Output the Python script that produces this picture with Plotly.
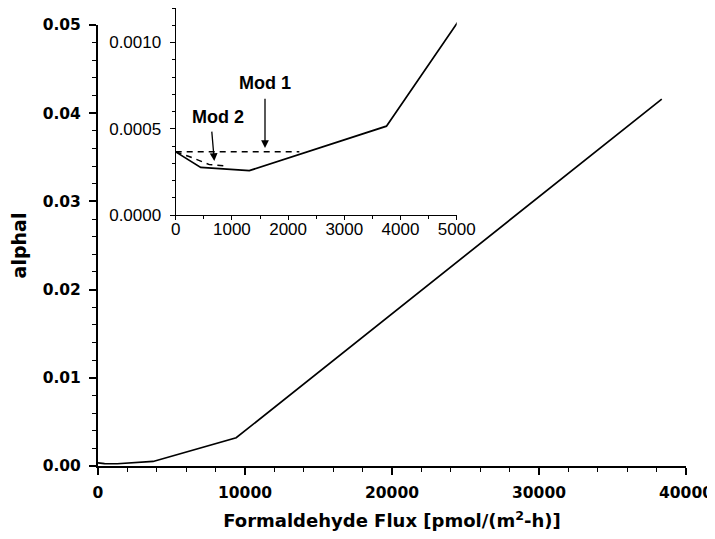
import plotly.graph_objects as go

# Data
flux = [0, 445, 1310, 3750, 9400, 38350]
alpha = [0.000366, 0.000276, 0.000257, 0.000515, 0.0032, 0.0416]

mod1_flux = [0, 2200]
mod1_alpha = [0.000366, 0.000366]

mod2_flux = [0, 250, 600, 900]
mod2_alpha = [0.000366, 0.000338, 0.000292, 0.000284]

main_xticks = [0, 10000, 20000, 30000, 40000]
main_yticks = [0.00, 0.01, 0.02, 0.03, 0.04, 0.05]
inset_xticks = [0, 1000, 2000, 3000, 4000, 5000]
inset_yticks = [0.0, 0.0005, 0.0010]

ARIAL = "Liberation Sans, Arial, sans-serif"
WIDE = "DejaVu Sans, Verdana, sans-serif"

fig = go.Figure()
fig.add_trace(go.Scatter(x=flux, y=alpha, mode="lines",
                         line=dict(color="black", width=1.7),
                         xaxis="x", yaxis="y", showlegend=False))
fig.add_trace(go.Scatter(x=flux, y=alpha, mode="lines",
                         line=dict(color="black", width=1.7),
                         xaxis="x2", yaxis="y2", showlegend=False))
fig.add_trace(go.Scatter(x=mod1_flux, y=mod1_alpha, mode="lines",
                         line=dict(color="black", width=1.5, dash="6px,5px"),
                         xaxis="x2", yaxis="y2", showlegend=False))
fig.add_trace(go.Scatter(x=mod2_flux, y=mod2_alpha, mode="lines",
                         line=dict(color="black", width=1.5, dash="6px,5px"),
                         xaxis="x2", yaxis="y2", showlegend=False))

PLOT_H = 458
main_h = 441 / PLOT_H

fig.update_layout(
    width=707, height=531,
    margin=dict(l=90, r=29, t=0, b=73, autoexpand=False),
    paper_bgcolor="white", plot_bgcolor="rgba(0,0,0,0)",
    showlegend=False,
    xaxis=dict(
        domain=[0, 1], range=[0, 40000], anchor="y", automargin=False,
        tickvals=main_xticks, ticktext=[str(v) for v in main_xticks],
        ticks="outside", ticklen=7, tickwidth=1.5, tickcolor="black",
        minor=dict(dtick=2000, ticks="outside", ticklen=4, tickwidth=1.2, tickcolor="black"),
        showline=True, linecolor="black", linewidth=2, showgrid=False, zeroline=False,
        tickfont=dict(family=WIDE, size=15.5, color="black", weight="bold"),
        ticklabelstandoff=4,
        title=dict(text="Formaldehyde Flux [pmol/(m<sup>2</sup>-h)]",
                   font=dict(family=WIDE, size=18, color="black", weight="bold"),
                   standoff=14),
    ),
    yaxis=dict(
        domain=[0, main_h], range=[0, 0.05], anchor="x", automargin=False,
        tickvals=main_yticks, ticktext=["%.2f" % v for v in main_yticks],
        ticks="outside", ticklen=7, tickwidth=1.5, tickcolor="black",
        minor=dict(dtick=0.002, ticks="outside", ticklen=4, tickwidth=1.2, tickcolor="black"),
        showline=True, linecolor="black", linewidth=2, showgrid=False, zeroline=False,
        tickfont=dict(family=WIDE, size=15.5, color="black", weight="bold"),
        ticklabelstandoff=5,
        title=dict(text="alphal",
                   font=dict(family=WIDE, size=19, color="black", weight="bold"),
                   standoff=16),
    ),
    xaxis2=dict(
        domain=[77.7 / 588, 358.7 / 588], range=[0, 5000], anchor="y2", automargin=False,
        tickvals=inset_xticks, ticktext=[str(v) for v in inset_xticks],
        ticks="outside", ticklen=4, tickwidth=1, tickcolor="black",
        minor=dict(dtick=500, ticks="outside", ticklen=3, tickwidth=1, tickcolor="black"),
        showline=True, linecolor="black", linewidth=1.2, showgrid=False, zeroline=False,
        tickfont=dict(family=ARIAL, size=17, color="black"),
        ticklabelstandoff=-6,
    ),
    yaxis2=dict(
        domain=[251 / PLOT_H, 1.0], range=[0, 0.0012], anchor="x2", automargin=False,
        tickvals=inset_yticks, ticktext=["%.4f" % v for v in inset_yticks],
        ticks="outside", ticklen=5, tickwidth=1, tickcolor="black",
        minor=dict(dtick=0.0001, ticks="outside", ticklen=3, tickwidth=1, tickcolor="black"),
        showline=True, linecolor="black", linewidth=1.2, showgrid=False, zeroline=False,
        tickfont=dict(family=ARIAL, size=17, color="black"),
        ticklabelstandoff=5,
    ),
)

# Annotations with arrows in the inset
fig.add_annotation(x=1589, y=0.000388, ax=1589, ay=0.000683,
                   xref="x2", yref="y2", axref="x2", ayref="y2",
                   text="", showarrow=True, arrowhead=2, arrowsize=1.2,
                   arrowwidth=1.3, arrowcolor="black")
fig.add_annotation(x=1589, y=0.000764, xref="x2", yref="y2",
                   text="Mod 1", showarrow=False,
                   font=dict(family=ARIAL, size=18, color="black", weight="bold"))
fig.add_annotation(x=687, y=0.000313, ax=640, ay=0.000492,
                   xref="x2", yref="y2", axref="x2", ayref="y2",
                   text="", showarrow=True, arrowhead=2, arrowsize=1.2,
                   arrowwidth=1.3, arrowcolor="black")
fig.add_annotation(x=753, y=0.000567, xref="x2", yref="y2",
                   text="Mod 2", showarrow=False,
                   font=dict(family=ARIAL, size=18, color="black", weight="bold"))

fig.write_html("out.html")
